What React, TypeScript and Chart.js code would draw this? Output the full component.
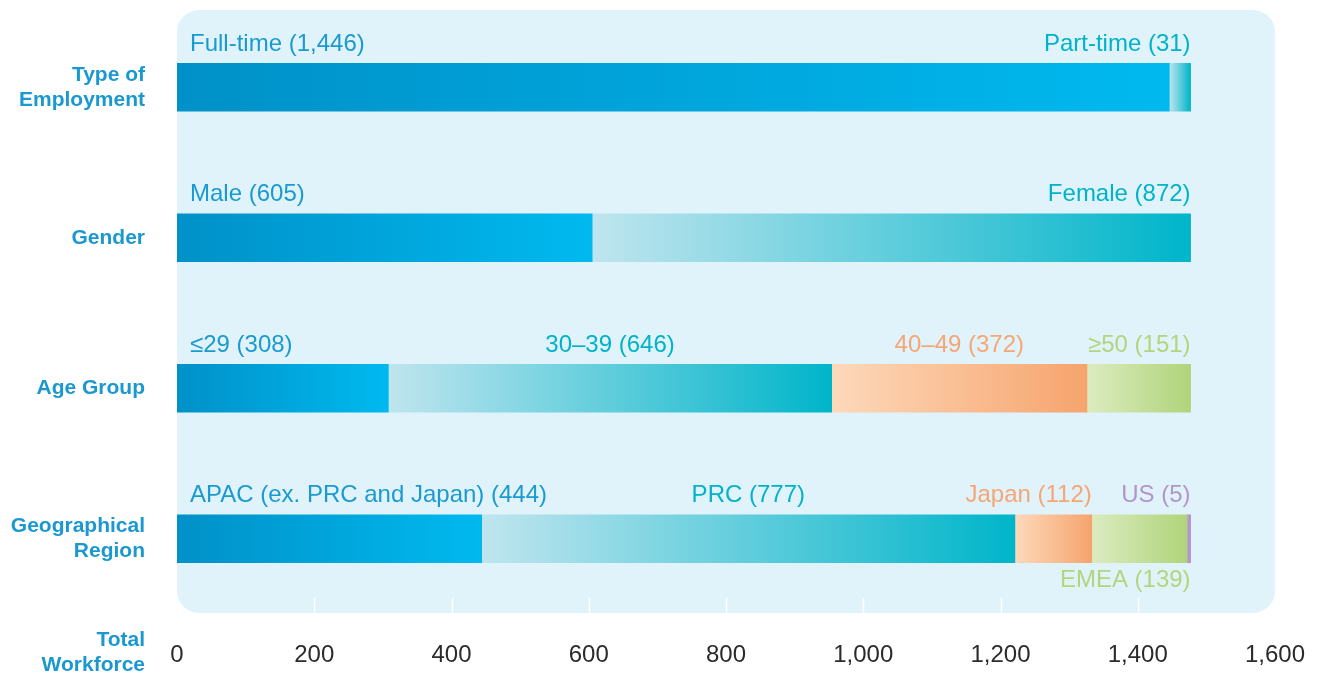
import React, { useEffect, useRef } from 'react';
import { Chart, registerables } from 'chart.js';

Chart.register(...registerables);

const categories: (string | string[])[] = [['Type of', 'Employment'], 'Gender', 'Age Group', ['Geographical', 'Region']];

const employmentLabels = ['Full-time', 'Part-time'];
const employmentValues = [1446, 31];
const genderLabels = ['Male', 'Female'];
const genderValues = [605, 872];
const ageLabels = ['≤29', '30–39', '40–49', '≥50'];
const ageValues = [308, 646, 372, 151];
const regionLabels = ['APAC (ex. PRC and Japan)', 'PRC', 'Japan', 'EMEA', 'US'];
const regionValues = [444, 777, 112, 139, 5];

const xMin = 0;
const xMax = 1600;
const xStep = 200;
const axisTitle = ['Total', 'Workforce'];

// styles (kept apart from data)
const FONT = "'Liberation Sans', Arial, Helvetica, sans-serif";
const PANEL = '#e0f3fa';
const CAT_COLOR = '#1a98cf';
const TICK_COLOR = '#2b2b2b';

type Pal = { from: string; to: string; text: string };
const BLUE: Pal = { from: '#0091c8', to: '#00b9ef', text: '#1a9ad0' };
const TEAL: Pal = { from: '#bfe5ee', to: '#00b5ca', text: '#00b3ca' };
const ORANGE: Pal = { from: '#fdd9bb', to: '#f6a46d', text: '#f6a676' };
const GREEN: Pal = { from: '#dcebc0', to: '#b0d47a', text: '#b2d57e' };
const PURPLE: Pal = { from: '#b79bd0', to: '#b091cb', text: '#b295c9' };

const rows = [
  { labels: employmentLabels, values: employmentValues, pal: [BLUE, TEAL], place: ['start', 'end'] },
  { labels: genderLabels, values: genderValues, pal: [BLUE, TEAL], place: ['start', 'end'] },
  { labels: ageLabels, values: ageValues, pal: [BLUE, TEAL, ORANGE, GREEN], place: ['start', 'center', 'center', 'end'] },
  { labels: regionLabels, values: regionValues, pal: [BLUE, TEAL, ORANGE, GREEN, PURPLE], place: ['start', 'center', 'end', 'below', 'end'] },
];

const maxSegs = Math.max(...rows.map((r) => r.values.length));

function segStart(row: number, seg: number) {
  let s = 0;
  for (let i = 0; i < seg; i++) s += rows[row].values[i] || 0;
  return s;
}

const fmt = (n: number) => n.toLocaleString('en-US');

const decor = {
  id: 'decor',
  beforeDraw(chart: any) {
    const { ctx, chartArea } = chart;
    if (!chartArea) return;
    const { left, right, top, bottom } = chartArea;
    ctx.save();
    ctx.fillStyle = PANEL;
    ctx.beginPath();
    ctx.roundRect(left, top - 2, right - left, bottom - 1 - (top - 2), 22);
    ctx.fill();
    // short white grid marks
    const xs = chart.scales.x;
    ctx.strokeStyle = '#ffffff';
    ctx.lineWidth = 1.5;
    xs.ticks.forEach((t: any) => {
      if (t.value <= xMin || t.value >= xMax) return;
      const x = Math.round(xs.getPixelForValue(t.value)) + 0.5;
      ctx.beginPath();
      ctx.moveTo(x, bottom - 16);
      ctx.lineTo(x, bottom - 1);
      ctx.stroke();
    });
    ctx.restore();
  },
  afterDatasetsDraw(chart: any) {
    const { ctx, chartArea } = chart;
    const xs = chart.scales.x;
    const ys = chart.scales.y;
    ctx.save();
    ctx.font = `24px ${FONT}`;
    rows.forEach((row, ri) => {
      const rowEnd = segStart(ri, row.values.length);
      row.values.forEach((v, si) => {
        const meta = chart.getDatasetMeta(si);
        const bar = meta.data[ri];
        if (!bar) return;
        const { x, y, base, height } = bar.getProps(['x', 'y', 'base', 'height'], true);
        const x0 = Math.min(x, base);
        const x1 = Math.max(x, base);
        const text = `${row.labels[si]} (${fmt(v)})`;
        const place = row.place[si];
        let tx = x0 + 13;
        let ty = y - height / 2 - 19;
        ctx.textBaseline = 'middle';
        if (place === 'start') {
          ctx.textAlign = 'left';
          tx = x0 + 13;
        } else if (place === 'center') {
          ctx.textAlign = 'center';
          tx = (x0 + x1) / 2;
        } else if (place === 'end') {
          ctx.textAlign = 'right';
          tx = x1;
        } else if (place === 'below') {
          ctx.textAlign = 'right';
          tx = xs.getPixelForValue(rowEnd);
          ty = y + height / 2 + 18;
        }
        ctx.fillStyle = row.pal[si].text;
        ctx.fillText(text, tx, ty);
      });
    });

    // category labels (y axis)
    ctx.font = `bold 21px ${FONT}`;
    ctx.fillStyle = CAT_COLOR;
    ctx.textAlign = 'right';
    ctx.textBaseline = 'middle';
    const lh = 25;
    categories.forEach((c, i) => {
      const lines = Array.isArray(c) ? c : [c];
      const cy = ys.getPixelForValue(i);
      lines.forEach((ln, k) => {
        ctx.fillText(ln, chartArea.left - 32, cy + (k - (lines.length - 1) / 2) * lh);
      });
    });
    // axis title
    ctx.fillText(axisTitle[0], chartArea.left - 32, chartArea.bottom + 26);
    ctx.fillText(axisTitle[1], chartArea.left - 32, chartArea.bottom + 51);

    // x tick labels
    ctx.font = `24px ${FONT}`;
    ctx.fillStyle = TICK_COLOR;
    ctx.textAlign = 'center';
    xs.ticks.forEach((t: any) => {
      ctx.fillText(fmt(t.value), xs.getPixelForValue(t.value), chartArea.bottom + 41);
    });
    ctx.restore();
  },
};

export default function App() {
  const ref = useRef<HTMLCanvasElement | null>(null);

  useEffect(() => {
    document.body.style.margin = '0';
    const canvas = ref.current;
    if (!canvas) return;

    const datasets = Array.from({ length: maxSegs }, (_, si) => ({
      label: `seg${si}`,
      data: rows.map((r) => (si < r.values.length ? r.values[si] : null)),
      barThickness: 48,
      borderWidth: 0,
      backgroundColor: (c: any) => {
        const ri = c.dataIndex;
        const row = rows[ri];
        const pal = row && row.pal[si];
        if (!pal) return 'rgba(0,0,0,0)';
        const chart = c.chart;
        if (!chart.chartArea || !chart.scales.x) return pal.to;
        const xs = chart.scales.x;
        const a = xs.getPixelForValue(segStart(ri, si));
        const b = xs.getPixelForValue(segStart(ri, si + 1));
        if (!isFinite(a) || !isFinite(b) || b - a < 0.5) return pal.to;
        const g = chart.ctx.createLinearGradient(a, 0, b, 0);
        g.addColorStop(0, pal.from);
        g.addColorStop(1, pal.to);
        return g;
      },
    }));

    const chart = new Chart(canvas, {
      type: 'bar',
      data: { labels: categories as any, datasets },
      options: {
        indexAxis: 'y',
        responsive: false,
        animation: false,
        events: [],
        layout: { padding: { left: 0, right: 49, top: 12, bottom: 0 } },
        plugins: { legend: { display: false }, tooltip: { enabled: false } },
        scales: {
          x: {
            type: 'linear',
            stacked: true,
            min: xMin,
            max: xMax,
            grid: { display: false, drawTicks: false },
            border: { display: false },
            ticks: { stepSize: xStep, display: false },
            afterFit: (s: any) => {
              s.height = 60;
            },
          },
          y: {
            stacked: true,
            grid: { display: false, drawTicks: false },
            border: { display: false },
            ticks: { display: false },
            afterFit: (s: any) => {
              s.width = 177;
            },
          },
        },
      },
      plugins: [decor],
    });
    return () => chart.destroy();
  }, []);

  return (
    <div style={{ width: 1324, height: 674 }}>
      <canvas ref={ref} width={1324} height={674} style={{ display: 'block' }} />
    </div>
  );
}
